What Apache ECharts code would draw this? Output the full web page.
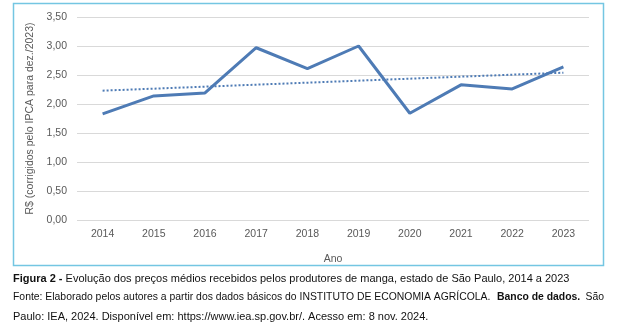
<!DOCTYPE html>
<html><head><meta charset="utf-8">
<script src="https://cdn.jsdelivr.net/npm/echarts@6/dist/echarts.min.js"></script>
<style>html,body{margin:0;padding:0;background:#fff}#c{width:628px;height:335px}</style>
</head><body><div id="c"></div>
<script>
const categories = ['2014','2015','2016','2017','2018','2019','2020','2021','2022','2023'];
const prices = [1.83, 2.14, 2.19, 2.97, 2.61, 3.00, 1.84, 2.33, 2.26, 2.64];
const trendStart = 2.23, trendEnd = 2.54;
const yTicks = {min: 0, max: 3.5, interval: 0.5};
const yAxisTitle = 'R$ (corrigidos pelo IPCA para dez./2023)';
const xAxisTitle = 'Ano';
const caption1a = 'Figura 2 -';
const caption1b = ' Evolução dos preços médios recebidos pelos produtores de manga, estado de São Paulo, 2014 a 2023';
const caption2 = 'Fonte: Elaborado pelos autores a partir dos dados básicos do INSTITUTO DE ECONOMIA AGRÍCOLA.';
const caption2b = 'Banco de dados.';
const caption2c = 'São';
const caption3 = 'Paulo: IEA, 2024. Disponível em: https://www.iea.sp.gov.br/. Acesso em: 8 nov. 2024.';

const chart = echarts.init(document.getElementById('c'), null, {renderer: 'canvas'});
const lineColor = '#4e7bb5';
const font = 'Liberation Sans, Arial, sans-serif';
chart.setOption({
  animation: false,
  grid: {left: 77, right: 39, top: 17, bottom: 115, containLabel: false},
  xAxis: {
    type: 'category', data: categories, boundaryGap: true,
    axisLine: {show: false}, axisTick: {show: false},
    axisLabel: {color: '#595959', fontSize: 10.5, fontFamily: font, margin: 9},
    name: xAxisTitle, nameLocation: 'middle', nameGap: 34,
    nameTextStyle: {color: '#595959', fontSize: 10.5, fontFamily: font}
  },
  yAxis: {
    type: 'value', min: yTicks.min, max: yTicks.max, interval: yTicks.interval,
    axisLine: {show: false}, axisTick: {show: false},
    splitLine: {lineStyle: {color: '#d9d9d9', width: 1}},
    axisLabel: {color: '#595959', fontSize: 10.5, fontFamily: font, margin: 10,
      formatter: v => v.toFixed(2).replace('.', ',')},
    name: yAxisTitle, nameLocation: 'middle', nameGap: 40, nameRotate: 90,
    nameTextStyle: {color: '#595959', fontSize: 10.5, fontFamily: font}
  },
  series: [
    {type: 'line', data: prices, symbol: 'none', lineStyle: {color: lineColor, width: 3}, z: 3},
    {type: 'line', data: [[categories[0], trendStart], [categories[categories.length-1], trendEnd]],
     symbol: 'none', lineStyle: {color: lineColor, width: 2, type: [2, 2]}, z: 2}
  ],
  graphic: [
    {type: 'rect', shape: {x: 13.5, y: 3.5, width: 590, height: 262},
     style: {fill: 'none', stroke: '#74c6e2', lineWidth: 1.5}, z: -1},
    {type: 'text', left: 13, top: 273, style: {
      text: '{b|' + caption1a + '}' + caption1b,
      font: '11px ' + font, fill: '#111',
      rich: {b: {fontWeight: 'bold', fontSize: 11, fontFamily: font}}
    }},
    {type: 'text', left: 13, top: 292, style: {
      text: caption2, font: '10.4px ' + font, fill: '#111'
    }},
    {type: 'text', left: 497, top: 292, style: {
      text: caption2b, font: 'bold 10.4px ' + font, fill: '#111'
    }},
    {type: 'text', right: 24, top: 292, style: {
      text: caption2c, font: '10.4px ' + font, fill: '#111'
    }},
    {type: 'text', left: 13, top: 311, style: {
      text: caption3, font: '11px ' + font, fill: '#111'
    }}
  ]
});
</script></body></html>
